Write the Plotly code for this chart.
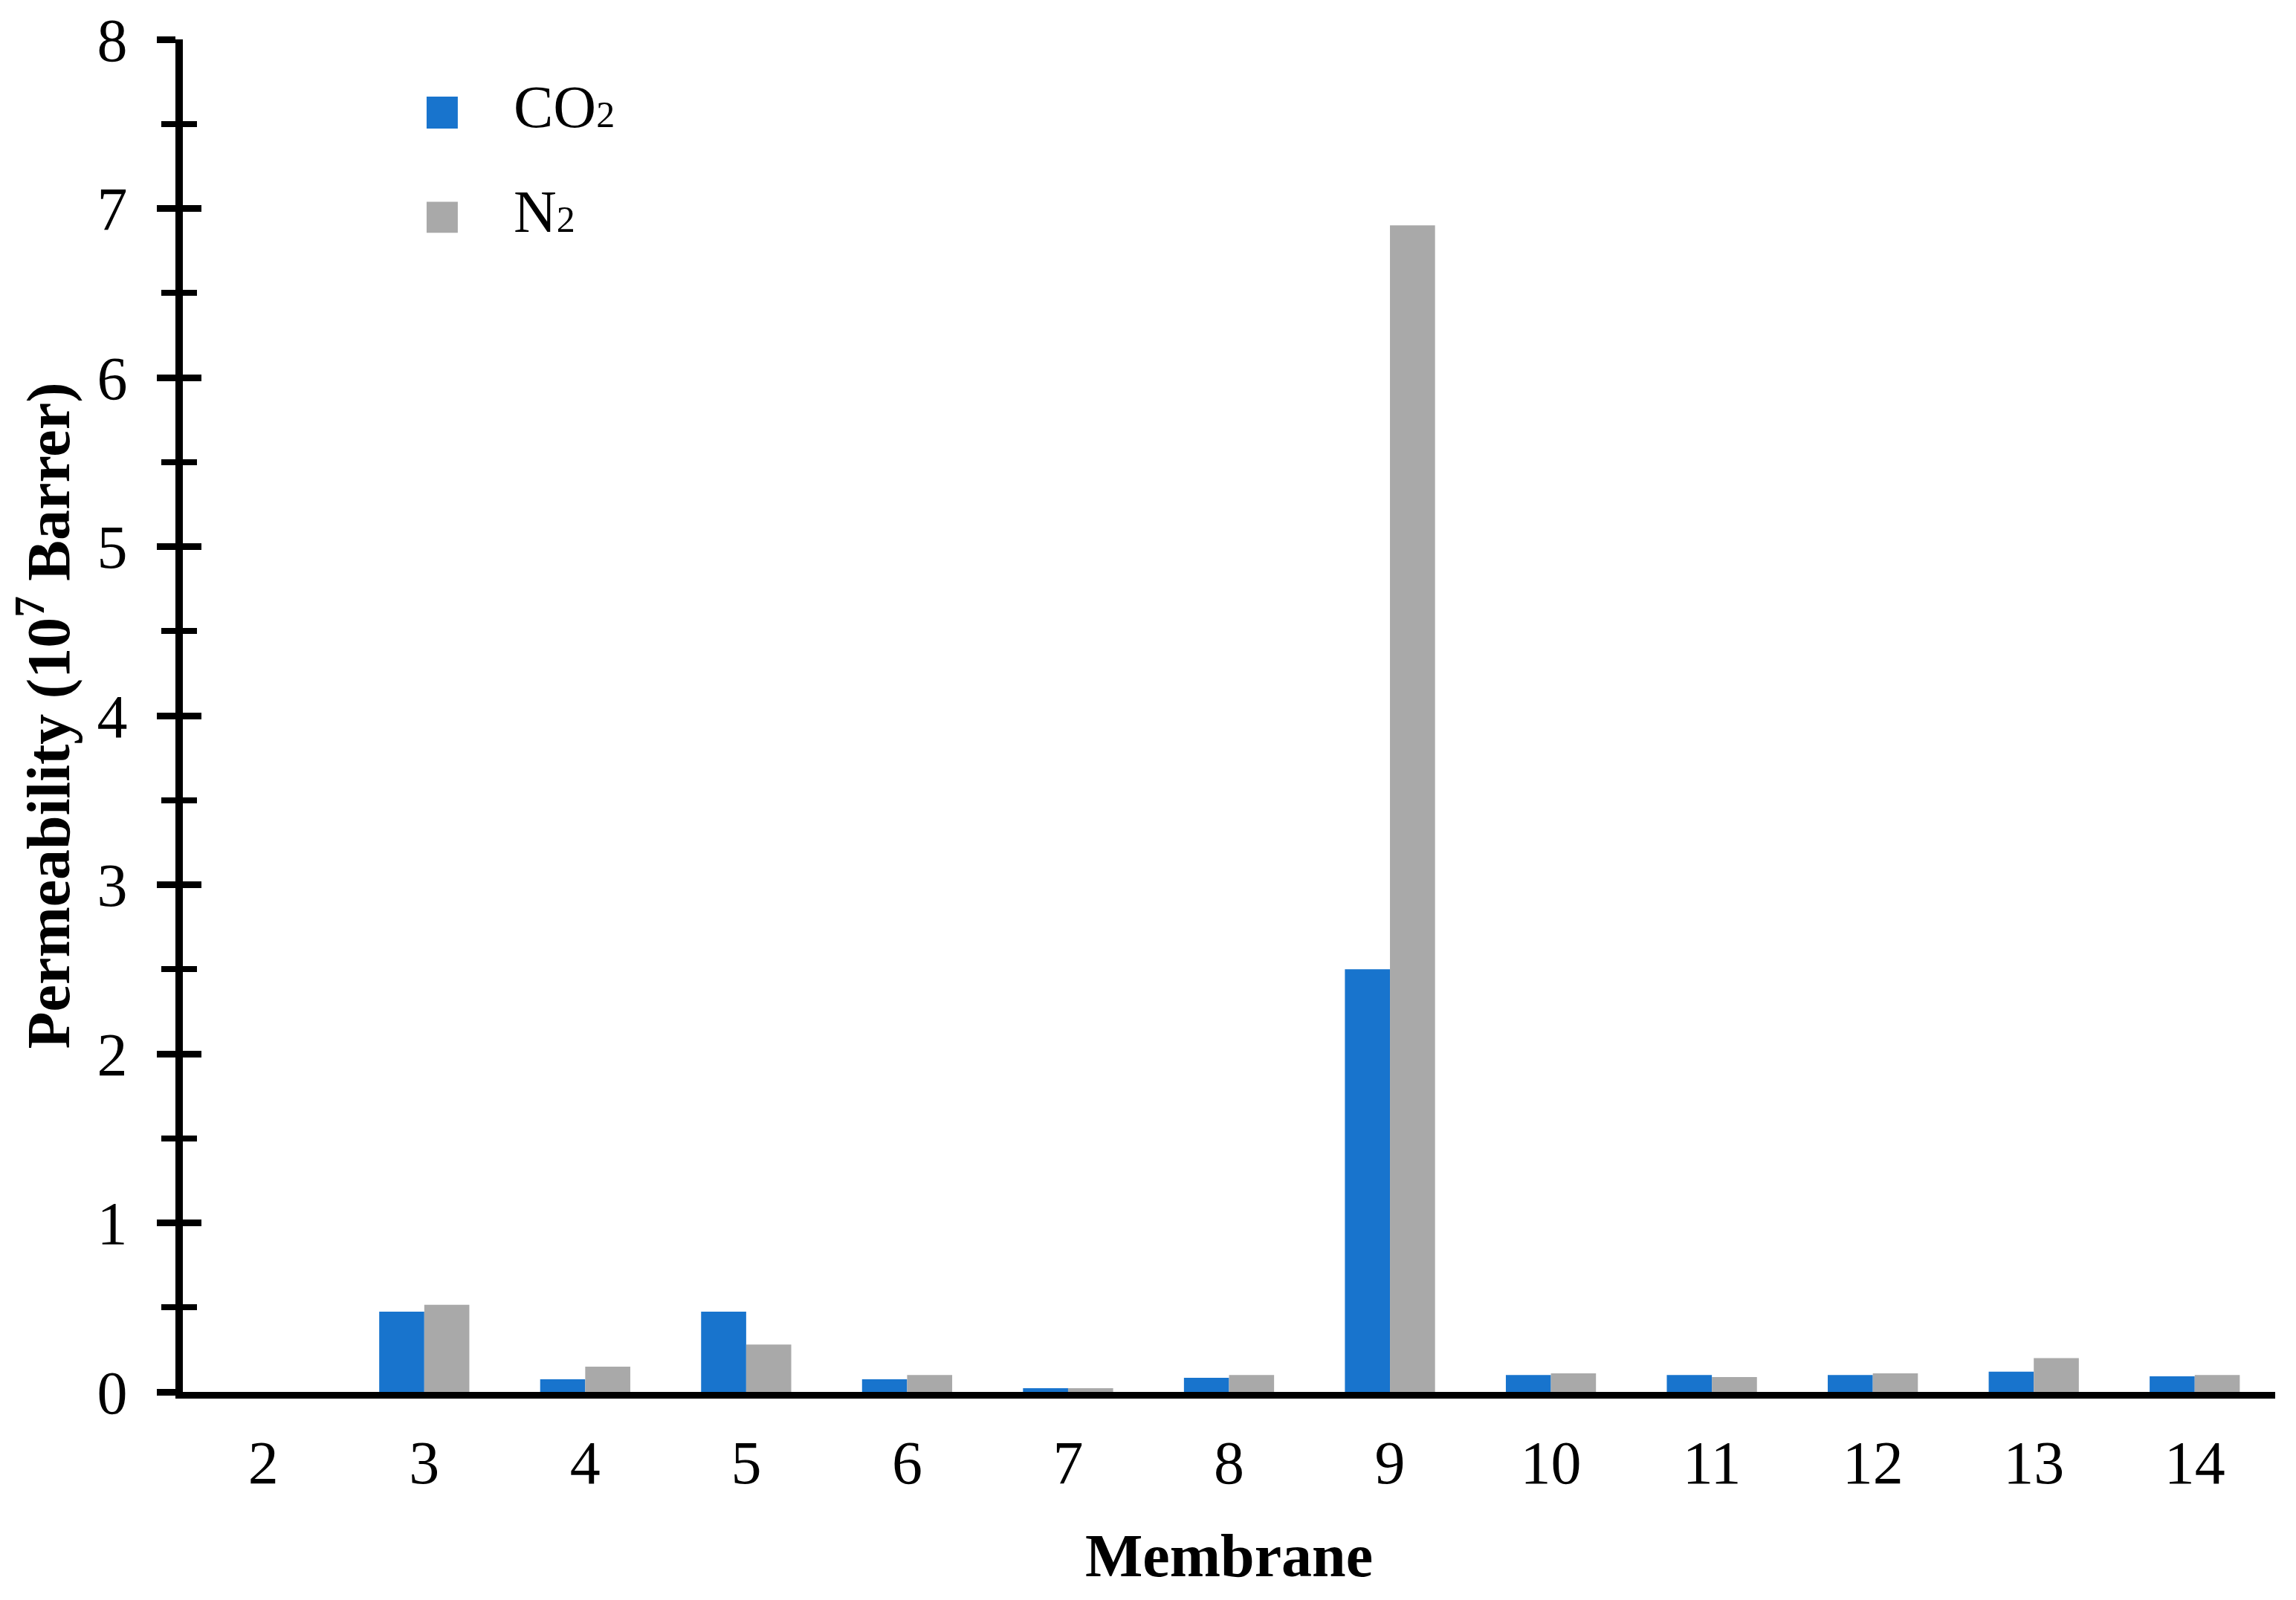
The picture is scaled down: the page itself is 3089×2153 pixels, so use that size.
import plotly.graph_objects as go

membranes = ["2", "3", "4", "5", "6", "7", "8", "9", "10", "11", "12", "13", "14"]
co2 = [0.0, 0.475, 0.075, 0.475, 0.075, 0.022, 0.083, 2.5, 0.10, 0.10, 0.10, 0.12, 0.092]
n2 = [0.0, 0.515, 0.15, 0.28, 0.10, 0.022, 0.10, 6.9, 0.11, 0.088, 0.11, 0.20, 0.10]
y_ticks = [0, 1, 2, 3, 4, 5, 6, 7, 8]

CO2_COLOR = "#1874CD"
N2_COLOR = "#A9A9A9"
FONT = "Liberation Serif, Times New Roman, serif"

fig = go.Figure()
fig.add_trace(go.Bar(x=membranes, y=co2, name="CO2", marker_color=CO2_COLOR,
                     marker_line_width=0, showlegend=False))
fig.add_trace(go.Bar(x=membranes, y=n2, name="N2", marker_color=N2_COLOR,
                     marker_line_width=0, showlegend=False))
# empty trace on overlay axis so the inner half of the cross ticks is rendered
fig.add_trace(go.Scatter(x=[membranes[0]], y=[None], yaxis="y2", showlegend=False,
                         hoverinfo="skip", mode="lines"))

fig.update_layout(
    width=3089, height=2153,
    paper_bgcolor="white", plot_bgcolor="white",
    margin=dict(l=238, r=36, t=45, b=288),
    barmode="group", bargap=0.44, bargroupgap=0,
    font=dict(family=FONT, size=82, color="black"),
    xaxis=dict(
        range=[-0.5, len(membranes) - 0.5], automargin=False,
        showline=True, linecolor="black", linewidth=9, ticks="",
        tickfont=dict(size=82), ticklabelstandoff=16,
        title=dict(text="<b>Membrane</b>", font=dict(size=82), standoff=54),
        showgrid=False, zeroline=False,
    ),
    yaxis=dict(
        range=[0, 8], tickvals=y_ticks, automargin=False,
        showline=True, linecolor="black", linewidth=10,
        ticks="outside", ticklen=25, tickwidth=9, tickcolor="black",
        minor=dict(ticks="outside", ticklen=19, tickwidth=8, dtick=0.5, tickcolor="black", showgrid=False),
        tickfont=dict(size=82), ticklabelstandoff=23,
        title=dict(text="<b>Permeability (10<sup>7</sup> Barrer)</b>", font=dict(size=82), standoff=26),
        showgrid=False, zeroline=False,
    ),
    yaxis2=dict(
        range=[0, 8], tickvals=y_ticks, overlaying="y", side="left", anchor="x", automargin=False,
        ticks="inside", ticklen=25, tickwidth=9, tickcolor="black",
        minor=dict(ticks="inside", ticklen=19, tickwidth=8, dtick=0.5, tickcolor="black", showgrid=False),
        showticklabels=False, showline=False, showgrid=False, zeroline=False,
    ),
    showlegend=False,
)

# legend drawn as shapes + text
legend_items = [
    ('CO<span style="font-size:50px">2</span>', CO2_COLOR, 0.934, 0.9577),
    ('N<span style="font-size:50px">2</span>', N2_COLOR, 0.857, 0.880),
]
for label, color, y0, y1 in legend_items:
    fig.add_shape(type="rect", xref="paper", yref="paper", x0=0.1165, x1=0.1314, y0=y0, y1=y1,
                  fillcolor=color, line_width=0)
    fig.add_annotation(xref="paper", yref="paper", x=0.1573, y=(y0 + y1) / 2 + 0.004, text=label,
                       showarrow=False, xanchor="left", yanchor="middle",
                       font=dict(family=FONT, size=80, color="black"))

fig.write_html("out.html")
